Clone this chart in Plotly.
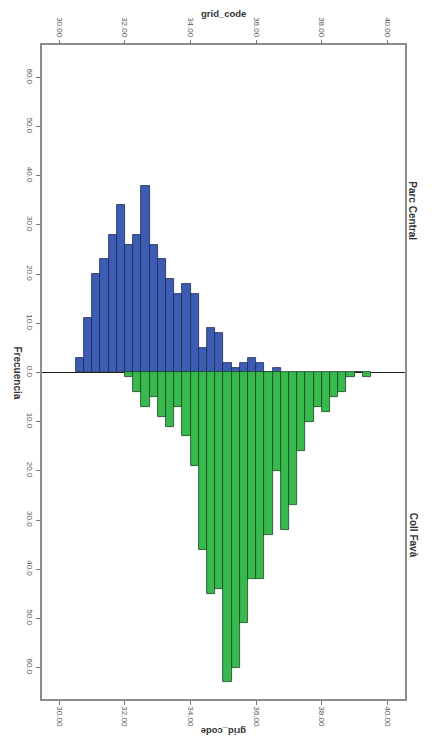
import plotly.graph_objects as go

# Bin centres (grid_code, bin width 0.25)
parc_centres = [30.625, 30.875, 31.125, 31.375, 31.625, 31.875, 32.125, 32.375,
                32.625, 32.875, 33.125, 33.375, 33.625, 33.875, 34.125, 34.375,
                34.625, 34.875, 35.125, 35.375, 35.625, 35.875, 36.125, 36.375,
                36.625]
parc_counts = [3, 11, 20, 23, 28, 34, 26, 28, 38, 26, 23, 19, 16, 18, 16, 5,
               9, 8, 2, 1, 2, 3, 2, 0, 1]

coll_centres = [32.125, 32.375, 32.625, 32.875, 33.125, 33.375, 33.625, 33.875,
                34.125, 34.375, 34.625, 34.875, 35.125, 35.375, 35.625, 35.875,
                36.125, 36.375, 36.625, 36.875, 37.125, 37.375, 37.625, 37.875,
                38.125, 38.375, 38.625, 38.875, 39.125, 39.375]
coll_counts = [1, 4, 7, 5, 9, 11, 7, 13, 19, 36, 45, 44, 63, 60, 51, 42, 42, 33,
               20, 32, 27, 16, 10, 7, 8, 5, 4, 1, 0, 1]

bin_width = 0.25
grid_ticks = [30, 32, 34, 36, 38, 40]
grid_labels = ["30.00", "32.00", "34.00", "36.00", "38.00", "40.00"]
freq_ticks = [-60, -50, -40, -30, -20, -10, 0, 10, 20, 30, 40, 50, 60]
freq_labels = ["60.0", "50.0", "40.0", "30.0", "20.0", "10.0", "0.0",
               "10.0", "20.0", "30.0", "40.0", "50.0", "60.0"]

FONT = "Liberation Sans"
x_range = [29.47, 40.54]
y_range = [-66.4, 66.6]

fig = go.Figure()
fig.add_trace(go.Bar(x=parc_centres, y=parc_counts, width=bin_width,
                     marker=dict(color="#3d5cb4", line=dict(color="#1e2a50", width=0.8)),
                     name="Parc Central", showlegend=False))
fig.add_trace(go.Bar(x=coll_centres, y=[-c for c in coll_counts], width=bin_width,
                     marker=dict(color="#37b94d", line=dict(color="#17451f", width=0.8)),
                     name="Coll Favà", showlegend=False))
# invisible trace to activate top axis
fig.add_trace(go.Scatter(x=[30], y=[0], xaxis="x2", mode="markers",
                         marker=dict(opacity=0), showlegend=False, hoverinfo="skip"))

fig.update_layout(
    template="none",
    width=424, height=732,
    margin=dict(l=34, r=27, t=37, b=41, autoexpand=False),
    paper_bgcolor="white", plot_bgcolor="white",
    barmode="overlay", bargap=0,
    font=dict(family=FONT, size=8, color="#444"),
    xaxis=dict(range=x_range, tickvals=grid_ticks, ticktext=grid_labels,
               tickangle=90, ticks="outside", ticklen=4, tickcolor="#777",
               showline=True, linecolor="#8c8c8c", linewidth=1.5, mirror=True,
               showgrid=False, zeroline=False, automargin=False,
               tickfont=dict(size=8, color="#555")),
    xaxis2=dict(range=x_range, tickvals=grid_ticks, ticktext=grid_labels,
                overlaying="x", side="top", tickangle=90, ticks="outside",
                ticklen=4, tickcolor="#777", showline=False, showgrid=False,
                zeroline=False, automargin=False, tickfont=dict(size=8, color="#555")),
    yaxis=dict(range=y_range, tickvals=freq_ticks, ticktext=freq_labels,
               tickangle=90, ticks="outside", ticklen=4, tickcolor="#777",
               showline=True, linecolor="#8c8c8c", linewidth=1.5, mirror=True,
               showgrid=False, zeroline=True, zerolinecolor="#222", zerolinewidth=1.3,
               automargin=False, tickfont=dict(size=8, color="#555")),
    annotations=[
        dict(text="<b>grid_code</b>", x=0.5, y=1, xref="paper", yref="paper",
             yshift=32, xanchor="center", yanchor="middle", showarrow=False,
             font=dict(size=9.5, color="#333")),
        dict(text="<b>grid_code</b>", x=0.5, y=0, xref="paper", yref="paper",
             yshift=-33, xanchor="center", yanchor="middle", showarrow=False,
             textangle=180, font=dict(size=9.5, color="#333")),
        dict(text="<b>Frecuencia</b>", x=0, y=0, xref="paper", yref="y",
             xshift=-24, xanchor="center", yanchor="middle", showarrow=False,
             textangle=90, font=dict(size=10, color="#333")),
        dict(text="<b>Parc Central</b>", x=1, y=33, xref="paper", yref="y",
             xshift=8, xanchor="center", yanchor="middle", showarrow=False,
             textangle=90, font=dict(size=10, color="#333")),
        dict(text="<b>Coll Favà</b>", x=1, y=-33, xref="paper", yref="y",
             xshift=8, xanchor="center", yanchor="middle", showarrow=False,
             textangle=90, font=dict(size=10, color="#333")),
    ],
)

fig.write_html("out.html")
